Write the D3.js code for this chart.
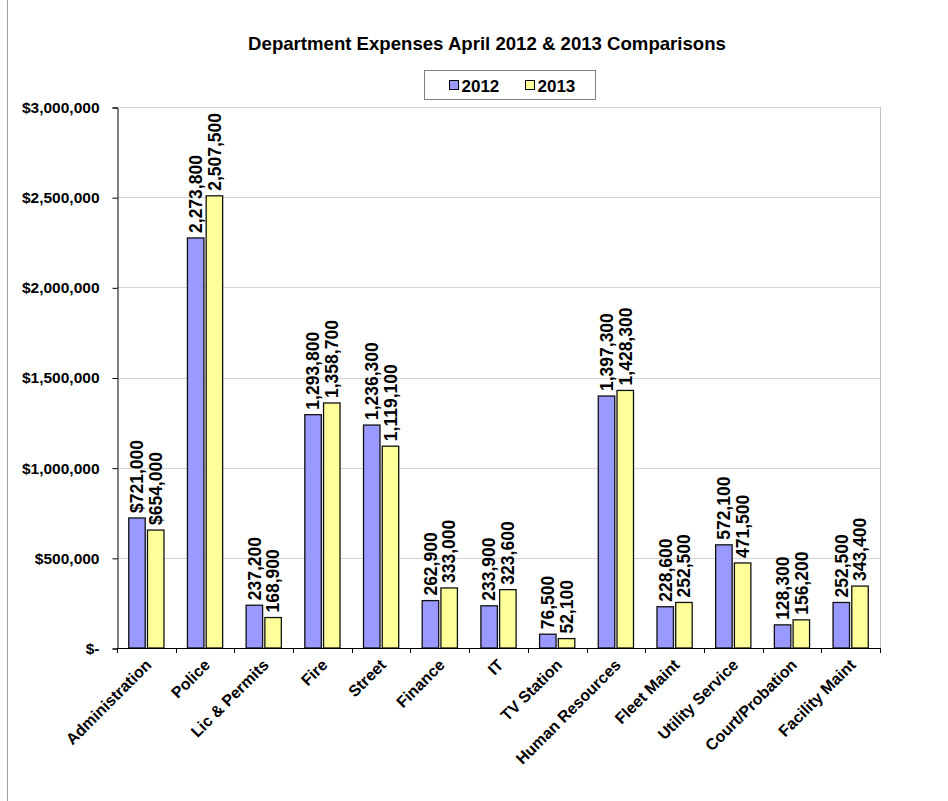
<!DOCTYPE html>
<html>
<head>
<meta charset="utf-8">
<script src="https://cdn.jsdelivr.net/npm/d3@7"></script>
<style>
  body { margin: 0; background: #fff; }
  svg text { font-family: "Liberation Sans", Arial, sans-serif; font-weight: bold; fill: #000; }
</style>
</head>
<body>
<svg id="chart"></svg>
<script>
// 数据
const categories = ['Administration', 'Police', 'Lic & Permits', 'Fire', 'Street', 'Finance', 'IT',
  'TV Station', 'Human Resources', 'Fleet Maint', 'Utility Service', 'Court/Probation', 'Facility Maint']
const series = ['2012', '2013']
const values2012 = [721000, 2273800, 237200, 1293800, 1236300, 262900, 233900, 76500, 1397300, 228600, 572100, 128300, 252500]
const values2013 = [654000, 2507500, 168900, 1358700, 1119100, 333000, 323600, 52100, 1428300, 252500, 471500, 156200, 343400]
const yTicks = [0, 500000, 1000000, 1500000, 2000000, 2500000, 3000000]

function draw() {
    let width = 948
    let height = 801
    let left = 117, right = 880, top = 107, bottom = 648
    let colors = { '2012': '#9999ff', '2013': '#ffff99' }

    let svg = d3.select('#chart')
        .attr('width', width)
        .attr('height', height)

    // 外框
    svg.append('line')
        .attr('x1', 7.5).attr('x2', 7.5).attr('y1', 0).attr('y2', height)
        .attr('stroke', '#a0a0a0')

    // 标题
    svg.append('text')
        .text('Department Expenses April 2012 & 2013 Comparisons')
        .attr('x', 487).attr('y', 50)
        .attr('text-anchor', 'middle')
        .style('font-size', '18.6px')

    // 图例
    let legend = svg.append('g').attr('transform', 'translate(424.5, 70.5)')
    legend.append('rect')
        .attr('width', 171).attr('height', 29)
        .attr('fill', '#fff').attr('stroke', '#808080')
    series.forEach((s, i) => {
        let g = legend.append('g').attr('transform', 'translate(' + (25 + i * 76) + ', 0)')
        g.append('rect')
            .attr('x', 0).attr('y', 10).attr('width', 9).attr('height', 9)
            .attr('fill', colors[s]).attr('stroke', '#000')
        g.append('text').text(s)
            .attr('x', 12).attr('y', 21)
            .style('font-size', '17px')
    })

    // 比例尺
    let x = d3.scaleBand().domain(categories).range([left, right])
    let bw = x.bandwidth()
    let x1 = d3.scaleBand().domain(series).range([bw * 0.2, bw * 0.8]).paddingInner(0.12)
    let y = d3.scaleLinear().domain([0, 3000000]).range([bottom, top])

    // 网格线
    svg.append('g').selectAll('line').data(yTicks.slice(1)).enter()
        .append('line')
        .attr('x1', left).attr('x2', right)
        .attr('y1', d => Math.round(y(d)) + 0.5).attr('y2', d => Math.round(y(d)) + 0.5)
        .attr('stroke', '#d4d4d4')
    svg.append('line')
        .attr('x1', right + 0.5).attr('x2', right + 0.5).attr('y1', top).attr('y2', bottom)
        .attr('stroke', '#c0c0c0')

    // y轴
    let yAxis = d3.axisLeft(y).tickValues(yTicks).tickSize(5).tickPadding(13)
        .tickFormat(d => d === 0 ? '$-' : d3.format('$,')(d))
    let gy = svg.append('g').attr('transform', 'translate(' + (left + 0.5) + ', 0.5)').call(yAxis)
    gy.attr('font-size', null).attr('font-family', null)
    gy.select('.domain').attr('stroke', '#000')
    gy.selectAll('.tick text').style('font-size', '15.5px')

    // 柱子
    let groups = svg.append('g').selectAll('g').data(categories).enter()
        .append('g')
        .attr('transform', d => 'translate(' + x(d) + ', 0)')
    let rows = (c, i) => series.map((s, j) => ({ s: s, v: (j === 0 ? values2012 : values2013)[i], i: i }))

    groups.selectAll('rect').data(rows).enter()
        .append('rect')
        .attr('x', d => x1(d.s))
        .attr('y', d => y(d.v))
        .attr('width', x1.bandwidth())
        .attr('height', d => y(0) - y(d.v))
        .attr('fill', d => colors[d.s])
        .attr('stroke', '#111')
        .attr('stroke-width', 1.3)

    // 数值标签
    groups.selectAll('text').data(rows).enter()
        .append('text')
        .text(d => (d.i === 0 ? d3.format('$,') : d3.format(','))(d.v))
        .attr('transform', d => 'translate(' + (x1(d.s) + x1.bandwidth() / 2) + ',' + (y(d.v) - 5) + ') rotate(-90)')
        .attr('dy', '0.36em')
        .style('font-size', '17.5px')

    // x轴
    svg.append('line')
        .attr('x1', left).attr('x2', right).attr('y1', bottom + 0.5).attr('y2', bottom + 0.5)
        .attr('stroke', '#000')
    svg.append('g').selectAll('line').data(categories.concat(['end'])).enter()
        .append('line')
        .attr('x1', d => Math.round(d === 'end' ? right : x(d)) + 0.5)
        .attr('x2', d => Math.round(d === 'end' ? right : x(d)) + 0.5)
        .attr('y1', bottom).attr('y2', bottom + 5)
        .attr('stroke', '#000')

    svg.append('g').selectAll('text').data(categories).enter()
        .append('text')
        .text(d => d)
        .attr('text-anchor', 'end')
        .attr('transform', d => 'translate(' + (x(d) + bw / 2 + 6) + ',' + (bottom + 18) + ') rotate(-45)')
        .style('font-size', '16px')
}

draw()
</script>
</body>
</html>
